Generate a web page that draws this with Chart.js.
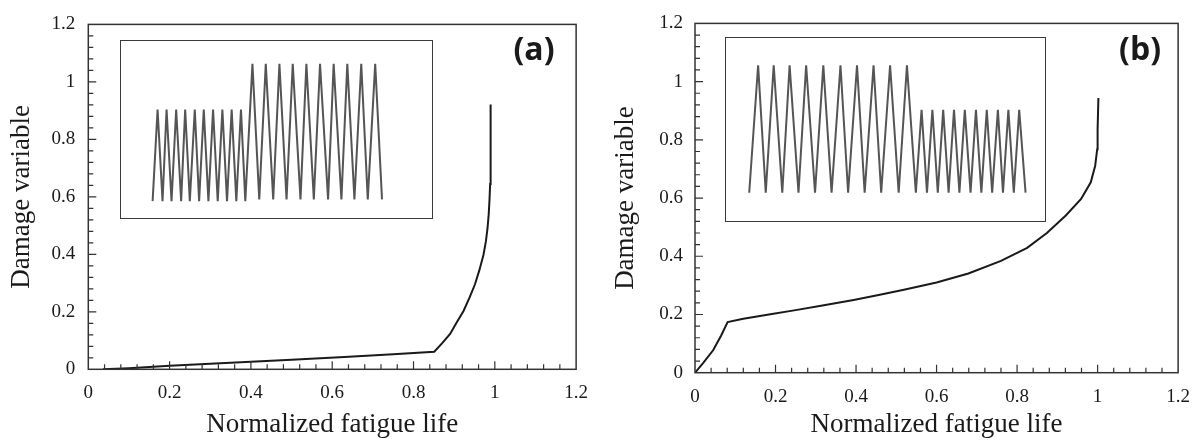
<!DOCTYPE html>
<html>
<head>
<meta charset="utf-8">
<script src="https://cdn.jsdelivr.net/npm/chart.js@4"></script>
<style>
  html, body { margin: 0; padding: 0; background: #fff; }
  #wrap { position: relative; width: 1203px; height: 441px; overflow: hidden; }
  canvas { position: absolute; display: block; }
  .inset { position: absolute; border: 1.5px solid #3a3a3a; box-sizing: border-box; background: #fff; }
  .inset canvas { left: 0; top: 0; }
  .tag { position: absolute; font: bold 32px 'Open Sans', 'Liberation Sans', sans-serif; color: #1a1a1a; transform: translate(-50%, -50%); white-space: nowrap; }
</style>
</head>
<body>
<div id="wrap">
  <canvas id="chart-a" width="600" height="441" style="left:0;top:0"></canvas>
  <canvas id="chart-b" width="603" height="441" style="left:600px;top:0"></canvas>
  <div class="inset" style="left:120px;top:40px;width:313px;height:179px">
    <canvas id="inset-a" width="310" height="176"></canvas>
  </div>
  <div class="inset" style="left:725px;top:37px;width:321px;height:185px">
    <canvas id="inset-b" width="318" height="182"></canvas>
  </div>
  <div class="tag" style="left:534px;top:47px">(a)</div>
  <div class="tag" style="left:1140px;top:47px">(b)</div>
</div>
<script>
'use strict';

// ── Data ─────────────────────────────────────────────────────────────────────
const xTicks = [0, 0.2, 0.4, 0.6, 0.8, 1, 1.2];
const yTicks = [0, 0.2, 0.4, 0.6, 0.8, 1, 1.2];

// (a) low-to-high loading sequence
const lifeA   = [0.036, 0.1, 0.2, 0.3, 0.4, 0.5, 0.63, 0.75, 0.851, 0.87, 0.89, 0.905, 0.923, 0.938, 0.951, 0.962, 0.972, 0.978, 0.982, 0.985, 0.987, 0.9885, 0.989, 0.99, 0.99];
const damageA = [0, 0.004, 0.012, 0.019, 0.026, 0.033, 0.043, 0.052, 0.061, 0.09, 0.123, 0.16, 0.203, 0.25, 0.295, 0.345, 0.398, 0.445, 0.49, 0.54, 0.592, 0.645, 0.695, 0.80, 0.921];

// (b) high-to-low loading sequence
const lifeB   = [0, 0.02, 0.045, 0.065, 0.081, 0.12, 0.191, 0.25, 0.313, 0.394, 0.45, 0.516, 0.6, 0.679, 0.76, 0.825, 0.874, 0.921, 0.959, 0.983, 0.994, 0.999, 1.0, 1.002];
const damageB = [0, 0.033, 0.077, 0.128, 0.174, 0.185, 0.202, 0.215, 0.23, 0.25, 0.265, 0.284, 0.31, 0.341, 0.384, 0.429, 0.48, 0.54, 0.597, 0.654, 0.711, 0.768, 0.836, 0.944];

// inset load histories (turning points; time and load in relative units)
const insetTimeA = [10.2, 11.8, 13.4, 14.7, 16.3, 17.8, 19.4, 20.7, 22.2, 23.8, 25.2, 26.7, 28.2, 29.7, 31.2, 32.7, 34.2, 35.7, 37.2, 38.7, 40.1,
                    42.4, 44.6, 46.7, 49.1, 51.1, 53.4, 55.4, 57.9, 59.8, 62.2, 64.2, 66.8, 68.6, 71.1, 73.0, 75.3, 77.5, 79.6, 82.0, 84.2];
const insetLoadA = [0.09, 0.61, 0.09, 0.61, 0.09, 0.61, 0.09, 0.61, 0.09, 0.61, 0.09, 0.61, 0.09, 0.61, 0.09, 0.61, 0.09, 0.61, 0.09, 0.61, 0.09,
                    0.87, 0.10, 0.87, 0.10, 0.87, 0.10, 0.87, 0.10, 0.87, 0.10, 0.87, 0.10, 0.87, 0.10, 0.87, 0.10, 0.87, 0.10, 0.87, 0.10];

const insetTimeB = [7.3, 10.1, 12.5, 15.0, 17.7, 20.0, 22.8, 25.2, 28.0, 30.6, 33.2, 36.0, 38.4, 41.2, 43.6, 46.4, 48.8, 51.6, 54.3, 56.9, 59.7,
                    61.5, 63.2, 64.9, 66.6, 68.3, 70.0, 71.7, 73.4, 75.1, 76.9, 78.6, 80.3, 82.0, 83.7, 85.5, 87.1, 88.8, 90.5, 92.2, 94.2];
const insetLoadB = [0.15, 0.85, 0.15, 0.85, 0.15, 0.85, 0.15, 0.85, 0.15, 0.85, 0.15, 0.85, 0.15, 0.85, 0.15, 0.85, 0.15, 0.85, 0.15, 0.85, 0.15,
                    0.605, 0.15, 0.605, 0.15, 0.605, 0.15, 0.605, 0.15, 0.605, 0.15, 0.605, 0.15, 0.605, 0.15, 0.605, 0.15, 0.605, 0.15, 0.605, 0.15];

// ── Helpers ──────────────────────────────────────────────────────────────────
const SERIF = "'Liberation Serif', 'Times New Roman', serif";
const INK = '#1a1a1a';
const pts = (xs, ys) => xs.map((x, i) => ({ x, y: ys[i] }));
const fmtTick = v => String(+v.toFixed(1));

// frame + inward ticks (major every 0.2, minor every 0.04)
const frame = {
  id: 'frame',
  afterDatasetsDraw(chart) {
    const { ctx, chartArea: a, scales: { x, y } } = chart;
    ctx.save();
    ctx.strokeStyle = '#333';
    ctx.lineWidth = 1.5;
    ctx.strokeRect(a.left, a.top, a.right - a.left, a.bottom - a.top);
    ctx.lineWidth = 1.2;
    ctx.beginPath();
    for (let i = 1; i < 30; i++) {
      const len = i % 5 === 0 ? 8 : 5;
      const px = x.getPixelForValue(i * 0.04);
      ctx.moveTo(px, a.bottom); ctx.lineTo(px, a.bottom - len);
      const py = y.getPixelForValue(i * 0.04);
      ctx.moveTo(a.left, py); ctx.lineTo(a.left + len, py);
    }
    ctx.stroke();
    ctx.restore();
  }
};

function mainChart(id, life, damage, box) {
  return new Chart(document.getElementById(id), {
    type: 'line',
    data: {
      datasets: [{
        data: pts(life, damage),
        borderColor: INK,
        borderWidth: 2,
        pointRadius: 0,
        tension: 0,
      }]
    },
    options: {
      responsive: false,
      animation: false,
      layout: { autoPadding: false, padding: { left: 0, right: box.right, top: box.top, bottom: 0 } },
      plugins: { legend: { display: false }, tooltip: { enabled: false } },
      scales: {
        x: {
          type: 'linear', min: 0, max: 1.2,
          afterBuildTicks: s => { s.ticks = xTicks.map(v => ({ value: v })); },
          afterFit: s => { s.height = box.xh; },
          grid: { display: false, drawTicks: false }, border: { display: false },
          ticks: { callback: fmtTick, padding: box.xtp, color: INK, font: { family: SERIF, size: 19 } },
          title: { display: true, text: 'Normalized fatigue life', color: INK,
                   padding: { top: 0, bottom: 0 }, font: { family: SERIF, size: 27 } },
        },
        y: {
          type: 'linear', min: 0, max: 1.2,
          afterBuildTicks: s => { s.ticks = yTicks.map(v => ({ value: v })); },
          afterFit: s => { s.width = box.yw; },
          grid: { display: false, drawTicks: false }, border: { display: false },
          ticks: { callback: fmtTick, padding: box.ytp, color: INK, font: { family: SERIF, size: 19 } },
          title: { display: true, text: 'Damage variable', color: INK,
                   padding: { top: box.ytt, bottom: 0 }, font: { family: SERIF, size: 27 } },
        }
      }
    },
    plugins: [frame]
  });
}

function insetChart(id, t, load) {
  return new Chart(document.getElementById(id), {
    type: 'line',
    data: {
      datasets: [{
        data: pts(t, load),
        borderColor: '#555',
        borderWidth: 2,
        pointRadius: 0,
        tension: 0,
      }]
    },
    options: {
      responsive: false,
      animation: false,
      layout: { autoPadding: false, padding: 0 },
      plugins: { legend: { display: false }, tooltip: { enabled: false } },
      scales: {
        x: { type: 'linear', min: 0, max: 100, display: false },
        y: { type: 'linear', min: 0, max: 1, display: false },
      }
    }
  });
}

// ── Render ───────────────────────────────────────────────────────────────────
mainChart('chart-a', lifeA, damageA, { right: 20, top: 19.5, xh: 71.7, yw: 88.3, xtp: 12, ytp: 13, ytt: 6 });
mainChart('chart-b', lifeB, damageB, { right: 16, top: 20, xh: 68.3, yw: 95, xtp: 13, ytp: 12, ytt: 10 });
insetChart('inset-a', insetTimeA, insetLoadA);
insetChart('inset-b', insetTimeB, insetLoadB);
</script>
</body>
</html>
